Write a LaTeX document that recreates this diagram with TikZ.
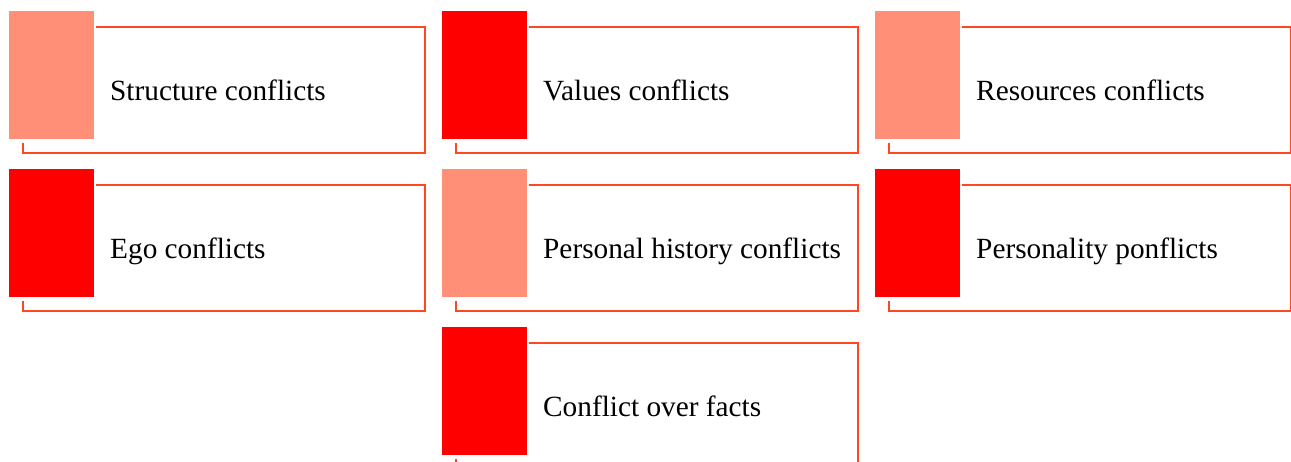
\documentclass[tikz,border=0pt]{standalone}
\usepackage{fontspec}
\setmainfont{Liberation Serif}
\definecolor{frameline}{RGB}{255,70,32}
\definecolor{softred}{RGB}{255,143,118}
\definecolor{vividred}{RGB}{255,0,0}
\tikzset{
  swatch/.style={draw=none, fill=#1, minimum width=85pt, minimum height=128pt, inner sep=0pt},
  frame/.style={draw=frameline, line width=2pt},
  caption/.style={anchor=base west, inner sep=0pt, font=\fontsize{29.3}{34}\selectfont, text=black}
}
\begin{document}
\begin{tikzpicture}[x=1pt, y=-1pt]
\useasboundingbox (0,0) rectangle (1291,461);
\clip (0,0) rectangle (1291,461);
\foreach \nm/\px/\py/\col/\txt in {
  structure/0/0/softred/Structure conflicts,
  values/433/0/vividred/Values conflicts,
  resources/866/0/softred/Resources conflicts,
  ego/0/158/vividred/Ego conflicts,
  history/433/158/softred/Personal history conflicts,
  personality/866/158/vividred/Personality ponflicts,
  facts/433/316/vividred/Conflict over facts}{
  \begin{scope}[shift={(\px,\py)}]
    % open frame around the tile, leaving a gap by the colour swatch
    \coordinate (\nm-start) at (96,27);
    \coordinate (\nm-corner) at (425,153);
    \coordinate (\nm-end) at (23,143);
    \draw[frame] (\nm-start) -| (\nm-corner) -| (\nm-end);
    \node[swatch=\col] (\nm-swatch) at (51.5,75) {};
    \node[caption] (\nm-label) at (110,100) {\txt};
  \end{scope}
}
\end{tikzpicture}
\end{document}
